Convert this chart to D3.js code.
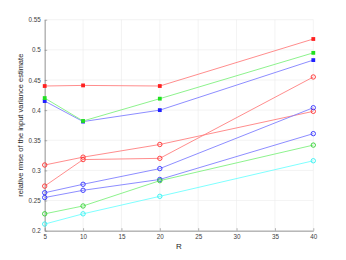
<!DOCTYPE html>
<html><head><meta charset="utf-8">
<script src="https://cdn.jsdelivr.net/npm/d3@7"></script>
<style>body{margin:0;background:#fff}svg{display:block}text{font-family:"Liberation Sans",Arial,sans-serif}</style>
</head><body><svg id="c" width="346" height="260"></svg>
<script>
const R = [5, 10, 20, 40];
const xTicks = [5, 10, 15, 20, 25, 30, 35, 40];
const yTicks = [0.2, 0.25, 0.3, 0.35, 0.4, 0.45, 0.5, 0.55];
const redFilled = [0.440, 0.441, 0.440, 0.518];
const greenFilled = [0.420, 0.382, 0.419, 0.495];
const blueFilled = [0.415, 0.381, 0.400, 0.483];
const redOpenA = [0.309, 0.322, 0.343, 0.398];
const redOpenB = [0.274, 0.318, 0.320, 0.455];
const blueOpenA = [0.263, 0.277, 0.303, 0.404];
const blueOpenB = [0.255, 0.267, 0.285, 0.361];
const greenOpen = [0.228, 0.241, 0.283, 0.342];
const cyanOpen = [0.211, 0.228, 0.257, 0.316];

const series = [
  {v: redOpenA, line: "#ff8080", mk: "#ff3030", shape: "circle"},
  {v: redOpenB, line: "#ff8080", mk: "#ff3030", shape: "circle"},
  {v: blueOpenA, line: "#8080ff", mk: "#3030ff", shape: "circle"},
  {v: blueOpenB, line: "#8080ff", mk: "#3030ff", shape: "circle"},
  {v: greenOpen, line: "#80f080", mk: "#30d030", shape: "circle"},
  {v: cyanOpen, line: "#70ffff", mk: "#30f0f0", shape: "circle"},
  {v: redFilled, line: "#ff8080", mk: "#ff2020", shape: "square"},
  {v: blueFilled, line: "#8080ff", mk: "#2020ff", shape: "square"},
  {v: greenFilled, line: "#80f080", mk: "#20e020", shape: "square"}
];

const svg = d3.select("#c");
const L = 44.7, Rr = 313.3, T = 19.7, B = 230.7;
const x = d3.scaleLinear().domain([5, 40]).range([L, Rr]);
const y = d3.scaleLinear().domain([0.2, 0.55]).range([B, T]);

const g = svg.append("g");
g.selectAll("line.gx").data(xTicks).join("line")
  .attr("x1", d => x(d)).attr("x2", d => x(d)).attr("y1", T).attr("y2", B)
  .attr("stroke", "#ebebeb").attr("stroke-width", 0.6);
g.selectAll("line.gy").data(yTicks).join("line")
  .attr("x1", L).attr("x2", Rr).attr("y1", d => y(d)).attr("y2", d => y(d))
  .attr("stroke", "#ebebeb").attr("stroke-width", 0.6);

const xa = svg.append("g").attr("transform", `translate(0,${B})`)
  .call(d3.axisBottom(x).tickValues(xTicks).tickSize(-2.5).tickSizeOuter(0).tickPadding(4));
const ya = svg.append("g").attr("transform", `translate(${L},0)`)
  .call(d3.axisLeft(y).tickValues(yTicks).tickSize(-2.5).tickSizeOuter(0).tickPadding(4)
    .tickFormat(d => String(+d.toFixed(2))));
[xa, ya].forEach(a => {
  a.select(".domain").attr("stroke", "#808080").attr("stroke-width", 0.8);
  a.selectAll(".tick line").attr("stroke", "#808080").attr("stroke-width", 0.6);
  a.selectAll(".tick text").attr("fill", "#404040").attr("font-size", 6.3)
    .attr("font-family", "Liberation Sans, Arial, sans-serif");
});

const line = d3.line().x((d, i) => x(R[i])).y(d => y(d));
series.forEach(s => {
  svg.append("path").datum(s.v).attr("d", line).attr("fill", "none")
    .attr("stroke", s.line).attr("stroke-width", 0.9);
  if (s.shape === "circle") {
    svg.selectAll(null).data(s.v).join("circle")
      .attr("cx", (d, i) => x(R[i])).attr("cy", d => y(d)).attr("r", 2.2)
      .attr("fill", "none").attr("stroke", s.mk).attr("stroke-width", 0.9);
  } else {
    svg.selectAll(null).data(s.v).join("rect")
      .attr("x", (d, i) => x(R[i]) - 1.9).attr("y", d => y(d) - 1.9)
      .attr("width", 3.8).attr("height", 3.8).attr("fill", s.mk);
  }
});

svg.append("text").attr("x", (L + Rr) / 2).attr("y", 249).attr("text-anchor", "middle")
  .attr("font-size", 8).attr("fill", "#262626").text("R");
svg.append("text").attr("transform", `translate(23,${(T + B) / 2}) rotate(-90)`)
  .attr("text-anchor", "middle").attr("font-size", 7.5).attr("fill", "#262626")
  .text("relative rmse of the input variance estimate");
</script></body></html>
